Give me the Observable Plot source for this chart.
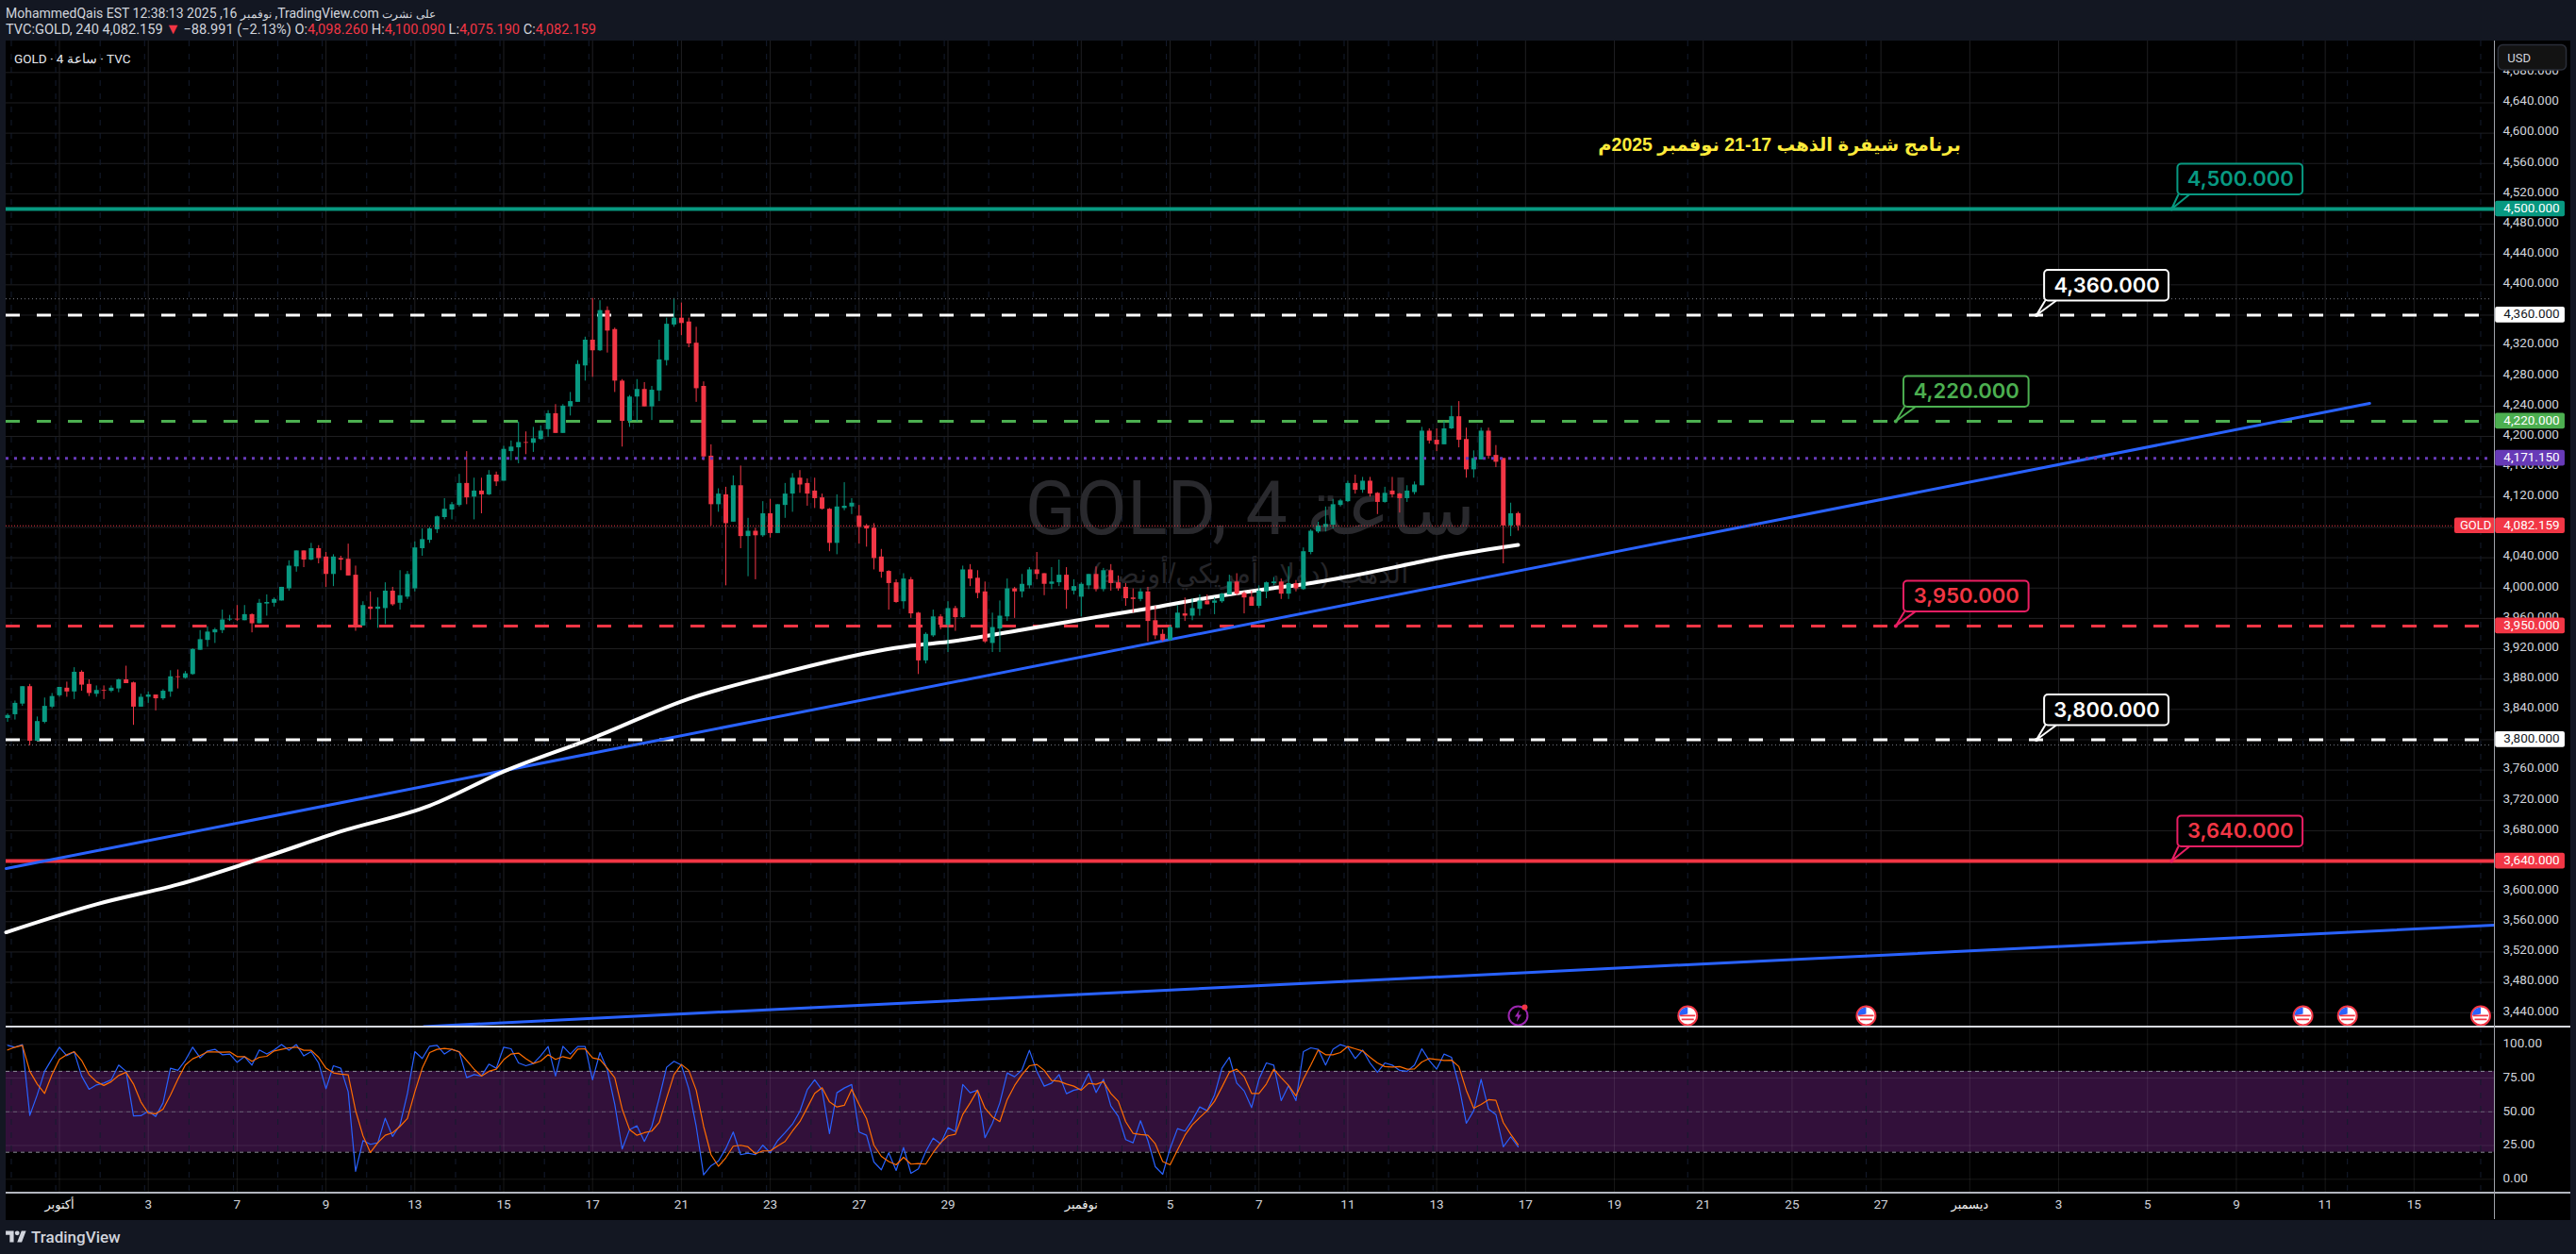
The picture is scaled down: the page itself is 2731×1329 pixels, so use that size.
<!DOCTYPE html>
<html lang="ar">
<head>
<meta charset="utf-8">
<script src="https://cdn.jsdelivr.net/npm/d3@7"></script>
<script src="https://cdn.jsdelivr.net/npm/@observablehq/plot@0.6"></script>
<style>
html,body{margin:0;padding:0;background:#131722;overflow:hidden;}
#page{position:relative;width:2731px;height:1329px;background:#131722;font-family:Roboto,"Liberation Sans",sans-serif;color:#d1d4dc;}
#head1,#head2,#legend,#brand{position:absolute;white-space:nowrap;direction:ltr;}
#head1{left:6px;top:5px;font-size:14px;line-height:18px;}
#head1 bdi{font-size:12px;}
#head2{left:6px;top:22px;font-size:14.6px;line-height:18px;}
#head2 b{font-weight:400;color:#f23645;}
#head2 i{font-style:normal;color:#f23645;font-size:16px;margin:0 3px;}
#legend{left:15px;top:53px;font-size:13.5px;line-height:18px;color:#e6e8ee;z-index:3;}
#price,#stoch{position:absolute;left:6px;}
#price{top:43px;}
#stoch{top:1088px;}
.sep{position:absolute;z-index:2;}
#brand{left:33px;top:1299px;font-size:17px;line-height:24px;font-weight:500;color:#d1d4dc;}
#logo{position:absolute;left:6px;top:1302px;}
</style>
</head>
<body>
<div id="page">
  <div id="head1">MohammedQais EST 12:38:13 2025 ,16 <bdi>نوفمبر</bdi> ,TradingView.com <bdi>نشرت</bdi> <bdi>على</bdi></div>
  <div id="head2">TVC:GOLD, 240 4,082.159<i>▼</i>−88.991 (−2.13%) O:<b>4,098.260</b> H:<b>4,100.090</b> L:<b>4,075.190</b> C:<b>4,082.159</b></div>
  <div id="legend">GOLD · 4 ساعة · TVC</div>
  <div id="price"></div>
  <div id="stoch"></div>
  <div class="sep" style="left:6px;top:1087px;width:2719px;height:2px;background:#d8dae0"></div>
  <div class="sep" style="left:6px;top:1263px;width:2719px;height:2px;background:#b2b5be"></div>
  <div class="sep" style="left:2644px;top:43px;width:1px;height:1249px;background:#a0a3ab"></div>
  <svg id="logo" width="22" height="17" viewBox="0 0 36 28"><path fill="#d1d4dc" d="M14 24H7V11H0V4h14v20zM28 24h-8l7.5-20h8L28 24z"/><circle fill="#d1d4dc" cx="20" cy="8" r="4"/></svg>
  <div id="brand">TradingView</div>
</div>
<script>
const open = [3828,3833,3847,3870,3798,3823,3843,3858,3868,3863,
3889,3873,3860,3865,3864,3867,3879,3875,3843,3856,
3859,3854,3863,3883,3881,3886,3918,3931,3941,3944,
3958,3959,3957,3965,3953,3979,3980,3983,3999,4028,
4049,4037,4052,4041,4018,4039,4038,4017,3950,3975,
3972,3973,3996,3980,3988,3999,4052,4063,4077,4093,
4103,4109,4138,4120,4128,4123,4149,4141,4180,4185,
4192,4191,4196,4209,4230,4204,4239,4245,4293,4327,
4313,4366,4341,4273,4220,4252,4262,4239,4260,4300,
4347,4356,4351,4323,4266,4174,4110,4123,4087,4135,
4068,4075,4069,4098,4072,4109,4124,4145,4138,4128,
4119,4104,4059,4105,4107,4095,4082,4079,4041,4022,
4007,3982,4011,3967,3904,3937,3962,3951,3973,3961,
4024,4013,3995,3927,3946,3962,3999,3995,4003,4024,
4019,4005,4007,4017,3996,3988,4003,4018,3998,4023,
4007,4001,3987,3985,3995,3957,3939,3931,3947,3966,
3963,3972,3983,3980,3982,3991,4008,3993,3988,3976,
3995,4006,4008,3992,4006,3998,4047,4074,4080,4083,
4109,4114,4138,4129,4141,4125,4113,4128,4124,4118,
4126,4135,4207,4195,4189,4210,4226,4196,4156,4169,
4207,4175,4171,4082,4098.26];
const high = [3834,3851,3870,3873,3830,3855,3861,3869,3876,3895,
3891,3879,3871,3871,3871,3880,3897,3876,3860,3863,
3859,3866,3891,3892,3890,3920,3944,3949,3947,3971,
3964,3977,3977,3966,3985,3991,3987,4001,4036,4049,
4049,4059,4056,4047,4044,4042,4058,4029,3982,3995,
3987,4007,4001,4023,4022,4061,4078,4080,4095,4118,
4113,4150,4180,4145,4145,4155,4153,4187,4194,4219,
4206,4212,4214,4234,4242,4242,4258,4300,4331,4382,
4379,4371,4343,4275,4254,4275,4271,4266,4327,4356,
4382,4376,4356,4344,4272,4189,4131,4133,4148,4161,
4092,4079,4114,4117,4110,4138,4151,4155,4144,4145,
4124,4105,4123,4139,4118,4109,4084,4085,4051,4023,
4011,4019,4014,3968,3941,3971,3965,3982,3976,4029,
4031,4023,4008,3967,3983,4012,4001,4018,4027,4047,
4019,4027,4037,4027,4011,4007,4018,4028,4026,4031,
4016,4006,3999,3999,4001,3976,3945,3951,3977,3987,
3986,3991,3991,3987,3993,4017,4019,3995,3996,4003,
4008,4014,4012,4028,4010,4053,4077,4087,4107,4117,
4117,4141,4149,4146,4146,4126,4133,4146,4125,4135,
4140,4212,4210,4210,4220,4240,4246,4211,4181,4211,
4211,4188,4171,4112,4100.09];
const low = [3823,3826,3844,3792,3798,3821,3841,3856,3856,3853,
3864,3857,3856,3853,3862,3862,3874,3819,3843,3848,
3838,3852,3856,3867,3880,3885,3918,3922,3927,3940,
3956,3956,3957,3941,3953,3963,3975,3983,3996,4021,
4027,4036,4032,4001,4002,4023,4016,3943,3950,3958,
3947,3952,3976,3971,3985,3995,4042,4059,4072,4090,
4090,4107,4110,4090,4098,4122,4134,4141,4168,4164,
4176,4179,4195,4199,4204,4204,4227,4245,4273,4278,
4312,4310,4258,4186,4212,4219,4239,4221,4246,4293,
4344,4333,4317,4245,4168,4082,4100,4003,4087,4052,
4015,4011,4067,4066,4072,4092,4100,4125,4108,4105,
4103,4048,4044,4102,4097,4058,4054,4024,4013,3971,
3980,3972,3960,3886,3900,3935,3945,3915,3943,3960,
4002,3986,3927,3915,3915,3956,3960,3987,3999,4011,
3990,3998,4002,3972,3991,3962,3998,3995,3995,3996,
3996,3976,3967,3982,3929,3932,3929,3930,3947,3956,
3957,3963,3978,3965,3980,3991,3990,3966,3976,3973,
3986,4003,3985,3985,3995,3997,4044,4072,4074,4078,
4107,4113,4124,4125,4120,4097,4112,4119,4099,4113,
4123,4135,4190,4180,4189,4209,4185,4145,4145,4169,
4170,4159,4032,4068,4075.19];
const close = [3832,3848,3870,3798,3824,3844,3857,3869,3863,3889,
3872,3861,3865,3864,3868,3879,3874,3843,3856,3859,
3854,3864,3883,3882,3887,3919,3932,3942,3945,3958,
3959,3958,3965,3953,3980,3981,3985,4001,4029,4049,
4037,4052,4039,4018,4041,4037,4016,3949,3977,3972,
3975,3996,3978,3990,4018,4053,4064,4078,4094,4104,
4110,4138,4119,4128,4123,4149,4140,4183,4186,4192,
4191,4197,4207,4230,4204,4240,4246,4295,4327,4313,
4366,4339,4273,4220,4252,4262,4239,4261,4301,4348,
4356,4349,4322,4263,4173,4110,4124,4085,4135,4068,
4075,4069,4098,4072,4110,4124,4145,4136,4124,4118,
4104,4059,4107,4108,4112,4080,4078,4039,4021,4006,
3981,4012,3966,3904,3939,3962,3951,3973,3961,4024,
4012,3993,3929,3948,3963,3999,3995,4005,4024,4018,
4005,4008,4017,3997,4002,4005,4018,3998,4023,4006,
3999,3986,3985,3995,3956,3937,3931,3948,3967,3963,
3973,3983,3978,3983,3992,4008,3992,3987,3976,3996,
4007,4008,3992,4006,3999,4048,4075,4082,4084,4110,
4115,4138,4129,4141,4124,4113,4125,4123,4118,4128,
4136,4207,4194,4189,4210,4226,4195,4156,4171,4207,
4174,4166,4082,4098,4082.159];

// ---- Moving average (white), read at bar positions ----
const maBar = [-0.2,12,23,35,45,57,67,79,92,103,117,122,127,137,146,154,162,171,175,182,190,194,200,204];
const maPrice = [3546,3583,3609,3646,3679,3713,3758,3802,3854,3884,3916,3924,3929,3945,3960,3973,3987,4000,4005,4017,4033,4041,4051,4057];

// ---- Trend lines ----
const trendABar = [-0.2,319], trendAPrice = [3630,4243.6];
const trendBBar = [56.2,335.85], trendBPrice = [3421.6,3555.4];

// ---- Stochastic %K and %D ----
const stochK = [99.3,97.9,99.8,47.3,62.5,80,89.3,97.9,91.6,94.4,
76.5,66.7,69.9,71.3,73.7,84.6,80,46.9,47.1,50.4,
46.6,56.6,82.3,80.7,88.1,97.9,90,95.1,96.3,92.3,
92.8,86.7,90.9,84.6,95.8,92.8,95.8,99.8,95.6,99.8,
91.4,94.6,86.2,67.1,84.1,82.3,64.8,5.8,28.7,25.9,
27,45.2,31.7,40.3,63.6,94.6,89.5,98.6,99.3,92.8,
96.3,94.4,75.3,77.6,76.5,85.3,82.3,97.9,96.7,86.2,
84.1,85.8,91.6,98.4,76.5,98.6,92.8,98.4,98.4,73.7,
93.9,81.1,55.5,22.4,36.8,39.6,28,39.2,60.1,83,
87.4,84.6,67.1,39.2,3.3,10,13.5,22.8,35,18.2,
19.3,
18.2,25.2,19.6,28.7,34.5,40.8,50.4,66.4,73.7,66,
33.8,64.1,67.6,70.2,35,32.6,12.8,7,19.6,6.5,
23.5,4.4,7.7,20.5,30.5,26.3,38.2,35.4,70.2,64.1,
66,30.8,41.5,56.6,78.8,76,81.1,95.6,80,69,
71.3,77.6,63.4,66,67.1,78.3,64.3,74.1,54.3,46.6,
29.4,27,43.4,28.7,9.3,3.7,22.8,37.5,35.7,43.8,
53.6,50.8,62.5,82.3,90.4,71.3,65.5,53.1,74.1,86.2,
84.6,58.3,69.5,58.3,94.6,97.4,96.3,84.6,96.3,99.8,
97.9,89.5,95.8,86.2,79.3,86.2,84.6,80.7,80,84.6,
96.7,88.1,81.6,92.8,90.4,69.5,41.5,50.8,74.1,52,
48,24,31.5,24];
const stochD = [95.8,97.9,99.3,80,70.6,63.6,77.6,88.8,92.3,94.6,
88.1,77.6,72.3,69.5,72.3,76.9,79.3,70.6,57.3,49,
48.5,52,62.5,74.1,84.6,89.3,91.6,94.4,94.4,94.2,
94.4,90.9,90.9,87.4,90.4,91.1,95.1,96.3,97.4,97.9,
95.6,95.6,90.4,82.3,78.8,77.9,77.4,50.8,32.2,19.8,
27,32.6,34.5,39.2,45,64.8,82.3,93.9,96.3,97,
96.3,94.4,88.1,81.6,76.5,80,81.6,88.6,92.8,93.5,
89.3,85.8,87.6,92.3,88.8,90.9,89.5,96.5,96.7,90,
88.8,82.3,75.3,52,36.8,32.6,34.5,35.7,42,60.1,
77.6,85.1,80.7,66,39.2,18.2,9.6,15.9,24.5,25.2,
24,
18.9,21,21,24.7,28,35.7,42.7,53.1,63.6,67.8,
57.3,53.6,54.8,66.7,55.5,45,25.2,17,13.1,10.7,
16.3,11.2,11.7,11.2,19.8,27,32.2,33.3,48,56.6,
66,52.7,46.2,42.7,59,69.5,77.6,84.1,85.1,80.7,
73.2,72.7,70.6,69,66,71.1,70.4,72.3,63.6,57.8,
42.7,34,33.1,32.6,26.3,13.1,10.7,21.7,32.6,40.3,
45.7,50.8,57.8,68.3,79.3,81.6,76,63.6,63.6,70.6,
81.6,75.3,69.5,61.8,74.1,84.6,95.8,92.3,92.3,93.9,
98.4,96.7,95.1,90.4,86.2,83.5,83.2,83.5,81.6,81.8,
86.9,89.5,88.8,88.1,88.3,83.5,66,52.7,55.5,59,
58.5,42,33.3,25.6];

// ---- Axis ticks ----
const priceTicks = d3.range(3440, 4681, 40);
const stochTicks = [0,25,50,75,100];
const dayBars = [19,31,43,55,67,79,91,103,115,127,157,169,181,193,205,217,229,241,253,277,289,301,313,325];
const dayLabels = ["3","7","9","13","15","17","21","23","27","29","5","7","11","13","17","19","21","25","27","3","5","9","11","15"];
const monthBars = [7,145,265];
const monthLabels = ["أكتوبر","نوفمبر","ديسمبر"];
const sessionBars = d3.range(0.5,199,6);
const eventBars = [226.9,251,310,316,334];
const flashBar = 204;
const markerPrice = 3436;

// ---- Horizontal levels ----
const levelPrices = [4500,4360,4220,3950,3800,3640];
const levelColors = ["#089981","#ffffff","#4caf50","#f23645","#ffffff","#f23645"];
const levelDashes = ["none","15 18","15 18","15 18","15 18","none"];
const levelWidths = [4,3,3,3,3,4];
const levelEnds = [335.85,334,334,334,334,335.85];
const tagPrices = [4500,4360,4220,4171.15,4082.159,3950,3800,3640];
const tagFills = ["#089981","#ffffff","#4caf50","#673ab7","#f23645","#f23645","#ffffff","#f23645"];
const tagInk = ["#fff","#131722","#fff","#fff","#fff","#fff","#131722","#fff"];
const calloutPrices = [4500,4360,4220,3950,3800,3640];
const calloutTip = [292.25,274,255,255,274,292.25];
const calloutLeft = [293.1,275.1,256.1,256.1,275.1,293.1];
const calloutRight = [310,291.9,273,273,291.9,310];
const calloutStroke = ["#089981","#ffffff","#4caf50","#e91e63","#ffffff","#e91e63"];
const calloutInk = ["#089981","#ffffff","#4caf50","#f23645","#ffffff","#f23645"];

const upColor="#089981", downColor="#f23645", gridColor="#1f1f22", sessionColor="#141c2e";
const xDomain=[-0.197,335.85];
const numFont="Roboto,'Liberation Sans',sans-serif";

const bars = open.map((o,i)=>({i,open:o,high:high[i],low:low[i],close:close[i]}));
const up = bars.filter(d=>d.close>=d.open), down = bars.filter(d=>d.close<d.open);
const zip=(a,b)=>a.map((v,k)=>({x:v,y:b[k]}));
const tagRows=tagPrices.map((p,k)=>({p,f:tagFills[k],ink:tagInk[k]}));
const callouts=calloutPrices.map((p,k)=>({p,tip:calloutTip[k],l:calloutLeft[k],r:calloutRight[k],s:calloutStroke[k],ink:calloutInk[k]}));
const fmt3=d3.format(",.3f");

const flagStripes={draw(c){[[-1,8],[3,6.5]].forEach(([y,w])=>{c.rect(-w,y,2*w,1.8);});}};
const flagCanton={draw(c){c.moveTo(0,-9);c.arc(0,0,9,-Math.PI/2,Math.PI,true);c.lineTo(0,-2);c.closePath();}};
const bolt={draw(c){c.moveTo(1.5,-6.5);c.lineTo(-3.5,1);c.lineTo(-0.5,1);c.lineTo(-1.5,6.5);c.lineTo(3.5,-1);c.lineTo(0.5,-1);c.closePath();}};

const priceMarks=[
  Plot.gridY(priceTicks,{stroke:gridColor,strokeOpacity:1}),
  Plot.gridX(dayBars.concat(monthBars),{stroke:gridColor,strokeOpacity:1}),
  Plot.ruleX(sessionBars,{stroke:sessionColor,strokeDasharray:"6 8"}),
  Plot.ruleX(eventBars,{stroke:sessionColor,strokeDasharray:"6 8"}),
  // watermark
  Plot.text(["GOLD, 4 ساعة"],{frameAnchor:"top",dy:497,fontSize:79,fill:"#29292d",fontFamily:"Roboto,'DejaVu Sans',sans-serif",lineAnchor:"middle"}),
  Plot.text(["الذهب (دولار أمريكي/أونصة)"],{frameAnchor:"top",dy:565,fontSize:29,fill:"#252529",fontFamily:"'Liberation Sans','DejaVu Sans',sans-serif",lineAnchor:"middle"}),
  // levels: one mark per level so each keeps its own dash pattern
  ...levelPrices.map((p,k)=>Plot.ruleY([p],{x1:xDomain[0],x2:levelEnds[k],stroke:levelColors[k],strokeWidth:levelWidths[k],strokeDasharray:levelDashes[k]})),
  Plot.line(zip(trendABar,trendAPrice),{x:"x",y:"y",stroke:"#2962ff",strokeWidth:3}),
  Plot.line(zip(trendBBar,trendBPrice),{x:"x",y:"y",stroke:"#2962ff",strokeWidth:3,clip:true}),
  Plot.line(zip(maBar,maPrice),{x:"x",y:"y",stroke:"#fff",strokeWidth:4,curve:"monotone-x",strokeLinecap:"round"}),
  // candles
  Plot.ruleX(up,{x:"i",y1:"low",y2:"high",stroke:upColor,strokeWidth:1}),
  Plot.ruleX(down,{x:"i",y1:"low",y2:"high",stroke:downColor,strokeWidth:1}),
  Plot.ruleX(up,{x:"i",y1:"open",y2:"close",stroke:upColor,strokeWidth:5}),
  Plot.ruleX(down,{x:"i",y1:"open",y2:"close",stroke:downColor,strokeWidth:5}),
  // thin price lines
  Plot.ruleY([4381.5,3793],{x1:xDomain[0],x2:335.5,stroke:"#787b86",strokeDasharray:"1 3"}),
  Plot.ruleY([4171.15],{x1:xDomain[0],x2:335.2,stroke:"#673ab7",strokeWidth:3,strokeDasharray:"3 6"}),
  Plot.ruleY([4082.159],{x1:xDomain[0],x2:330.4,stroke:downColor,strokeDasharray:"1 2"}),
  // event markers
  Plot.dot(eventBars,{x:d=>d,y:()=>markerPrice,r:10,fill:"#fff",stroke:downColor,strokeWidth:2}),
  Plot.dot(eventBars,{x:d=>d,y:()=>markerPrice,symbol:flagCanton,fill:"#2962ff"}),
  Plot.dot(eventBars,{x:d=>d,y:()=>markerPrice,symbol:flagStripes,fill:downColor}),
  Plot.dot([flashBar],{x:d=>d,y:()=>markerPrice,r:10,fill:"#000",stroke:"#9c27b0",strokeWidth:2}),
  Plot.dot([flashBar],{x:d=>d,y:()=>markerPrice,symbol:bolt,fill:"#9c27b0"}),
  Plot.dot([flashBar],{x:d=>d,y:()=>markerPrice,dx:7,dy:-9,r:3,fill:downColor}),
  // callouts
  ...callouts.map(d=>Plot.line([{x:d.l+0.05,y:d.p+18.7},{x:d.tip,y:d.p},{x:d.l+1.5,y:d.p+18.7}],{x:"x",y:"y",stroke:d.s,strokeWidth:2})),
  Plot.rect(callouts,{x1:"l",x2:"r",y1:d=>d.p+18.7,y2:d=>d.p+59.1,fill:"#000",stroke:"s",strokeWidth:2,rx:4}),
  Plot.dot(callouts,{x:"tip",y:"p",r:2,fill:"s"}),
  Plot.text(callouts,{x:d=>(d.l+d.r)/2,y:d=>d.p+38.9,text:d=>fmt3(d.p),fill:"ink",fontSize:22,fontWeight:600,fontFamily:"Inter,sans-serif"}),
  // title
  Plot.text(["برنامج شيفرة الذهب 17-21 نوفمبر 2025م"],{x:239.3,y:4584.6,fill:"#ffeb3b",fontSize:19.5,fontWeight:700,fontFamily:"'Liberation Sans','DejaVu Sans',sans-serif"}),
  // right axis
  Plot.axisY(priceTicks,{anchor:"right",tickSize:0,tickPadding:9,tickFormat:fmt3,fontSize:13.5,fill:"#d1d4dc",fontFamily:numFont,dy:-2,label:null}),
  Plot.rect(tagRows,{x1:336,x2:345.4,y1:d=>d.p-10.4,y2:d=>d.p+10.4,fill:"f",rx:2}),
  Plot.text(tagRows,{x:337.1,y:"p",text:d=>fmt3(d.p),fill:"ink",fontSize:13.5,textAnchor:"start",fontFamily:numFont,dy:-1}),
  Plot.rect([0],{x1:330.5,x2:336,y1:4082.159-10.4,y2:4082.159+10.4,fill:downColor,rx:2}),
  Plot.text(["GOLD"],{x:331.2,y:4082.159,fill:"#fff",fontSize:13,textAnchor:"start",fontFamily:numFont}),
  Plot.rect([0],{x1:336.4,x2:345.6,y1:4683,y2:4715.9,fill:"#131313",stroke:"#2a2e39",strokeWidth:1.5,rx:5}),
  Plot.text(["USD"],{x:337.6,y:4699,fill:"#d1d4dc",fontSize:13,textAnchor:"start",fontFamily:numFont})
];

document.getElementById("price").append(Plot.plot({
  width:2719,height:1045,marginLeft:0,marginRight:81,marginTop:0,marginBottom:0,
  style:{background:"#000",fontFamily:numFont,overflow:"visible"},
  x:{domain:xDomain,axis:null},
  y:{domain:[3421,4721.5],axis:null},
  marks:priceMarks
}));

const kRows=stochK.map((v,i)=>({i,v})), dRows=stochD.map((v,i)=>({i,v}));
const dayLabel=new Map(dayBars.map((b,k)=>[b,dayLabels[k]]));
const monthLabel=new Map(monthBars.map((b,k)=>[b,monthLabels[k]]));

document.getElementById("stoch").append(Plot.plot({
  width:2719,height:205,marginLeft:0,marginRight:81,marginTop:0,marginBottom:29,
  style:{background:"#000",fontFamily:numFont,overflow:"visible"},
  x:{domain:xDomain,axis:null},
  y:{domain:[-10.3,112.8],axis:null},
  marks:[
    Plot.rect([0],{x1:xDomain[0],x2:xDomain[1],y1:20,y2:80,fill:"#32103a"}),
    Plot.gridY(stochTicks,{stroke:"#fff",strokeOpacity:0.09}),
    Plot.gridX(dayBars.concat(monthBars),{stroke:"#fff",strokeOpacity:0.09}),
    Plot.ruleX(sessionBars,{stroke:sessionColor,strokeDasharray:"6 8"}),
    Plot.ruleX(eventBars,{stroke:sessionColor,strokeDasharray:"6 8"}),
    Plot.ruleY([80,20],{stroke:"#8a8d96",strokeDasharray:"4 4"}),
    Plot.ruleY([50],{stroke:"#787b86",strokeOpacity:0.7,strokeDasharray:"4 4"}),
    Plot.line(kRows,{x:"i",y:"v",stroke:"#2962ff",strokeWidth:1.2}),
    Plot.line(dRows,{x:"i",y:"v",stroke:"#ff6d00",strokeWidth:1.2}),
    Plot.axisY(stochTicks,{anchor:"right",tickSize:0,tickPadding:9,tickFormat:d3.format(".2f"),fontSize:13.5,fill:"#d1d4dc",fontFamily:numFont,dy:-1,label:null}),
    Plot.axisX(dayBars,{anchor:"bottom",tickSize:0,tickPadding:7,tickFormat:b=>dayLabel.get(b),fontSize:13.5,fill:"#d1d4dc",fontFamily:numFont,label:null}),
    Plot.axisX(monthBars,{anchor:"bottom",tickSize:0,tickPadding:7,tickFormat:b=>monthLabel.get(b),fontSize:13,fill:"#f0f0f0",fontFamily:"'Liberation Sans','DejaVu Sans',sans-serif",label:null})
  ]
}));
</script>
</body>
</html>
